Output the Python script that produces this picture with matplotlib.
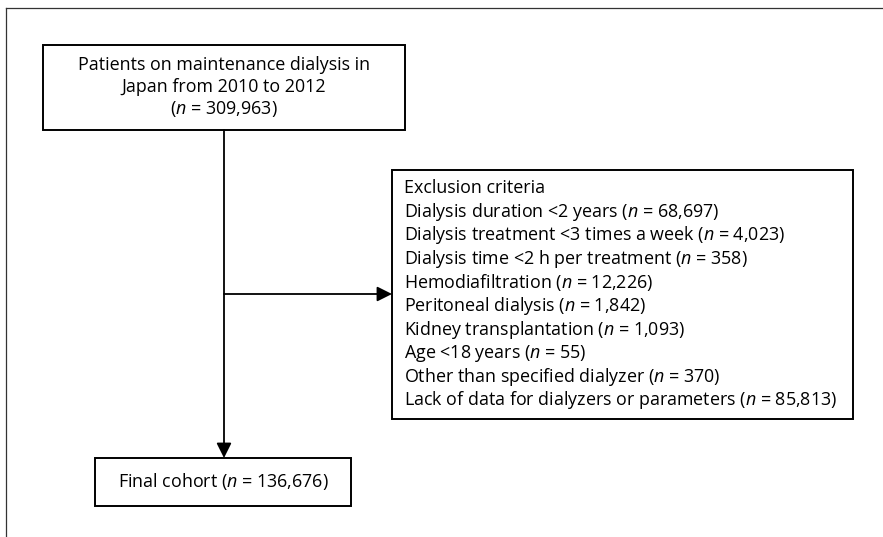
import matplotlib
matplotlib.use('Agg')
import matplotlib.pyplot as plt
from matplotlib.patches import Rectangle

# Contenu du diagramme de flux
total_patients = 309963
period = ("2010", "2012")
exclusion_labels = [
    "Dialysis duration <2 years",
    "Dialysis treatment <3 times a week",
    "Dialysis time <2 h per treatment",
    "Hemodiafiltration",
    "Peritoneal dialysis",
    "Kidney transplantation",
    "Age <18 years",
    "Other than specified dialyzer",
    "Lack of data for dialyzers or parameters",
]
exclusion_counts = [68697, 4023, 358, 12226, 1842, 1093, 55, 370, 85813]
final_cohort = 136676

plt.rcParams['font.family'] = ['Open Sans', 'DejaVu Sans']
plt.rcParams['mathtext.fontset'] = 'custom'
plt.rcParams['mathtext.rm'] = 'Open Sans'
plt.rcParams['mathtext.it'] = 'Open Sans:italic'

W, H = 883, 537
fig = plt.figure(figsize=(W / 100, H / 100), dpi=100)
ax = fig.add_axes([0, 0, 1, 1])
ax.set_xlim(0, W)
ax.set_ylim(H, 0)
ax.axis('off')

fs = 12.9
lw_box = 1.4


def n_text(n):
    return f"($n$ = {n:,})"


# Cadre extérieur (haut et gauche seulement)
ax.plot([6, W], [8, 8], color='#333333', lw=0.9)
ax.plot([6, 6], [8, H], color='#333333', lw=0.9)

# Boîte du haut
ax.add_patch(Rectangle((43, 45), 362, 85, fill=False, ec='black', lw=lw_box))
top_lines = [
    "Patients on maintenance dialysis in",
    f"Japan from {period[0]} to {period[1]}",
    n_text(total_patients),
]
for i, line in enumerate(top_lines):
    ax.text(224, 65 + i * 22, line, ha='center', va='center', fontsize=fs)

# Boîte des critères d'exclusion
ax.add_patch(Rectangle((392, 170), 461, 249, fill=False, ec='black', lw=lw_box))
excl_lines = ["Exclusion criteria"] + [
    f"{lab} {n_text(c)}" for lab, c in zip(exclusion_labels, exclusion_counts)
]
for i, line in enumerate(excl_lines):
    ax.text(404, 188 + i * 23.6, line, ha='left', va='center', fontsize=fs)

# Boîte finale
ax.add_patch(Rectangle((95, 458), 256, 48, fill=False, ec='black', lw=lw_box))
ax.text(223, 482, f"Final cohort {n_text(final_cohort)}", ha='center',
        va='center', fontsize=fs)

# Flèches
arrow_kw = dict(arrowstyle='-|>,head_length=0.9,head_width=0.45',
                color='black', lw=1.3, shrinkA=0, shrinkB=0)
ax.annotate('', xy=(224, 458), xytext=(224, 130), arrowprops=arrow_kw)
ax.annotate('', xy=(392, 294), xytext=(224, 294), arrowprops=arrow_kw)

fig.savefig('out.png', dpi=100)
plt.close(fig)
